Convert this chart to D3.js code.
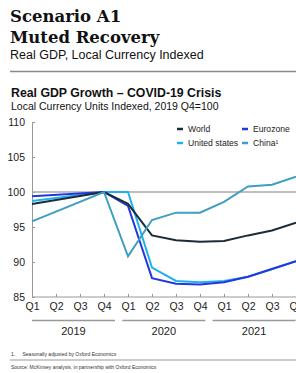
<!DOCTYPE html>
<html>
<head>
<meta charset="utf-8">
<script src="https://cdn.jsdelivr.net/npm/d3@7"></script>
<style>
  body { margin: 0; background: #fff; }
  svg { display: block; font-family: "Liberation Sans", Arial, sans-serif; }
</style>
</head>
<body>
<script>
// Datos del gráfico (índice, 2019 Q4 = 100)
const quarters = ["Q1", "Q2", "Q3", "Q4", "Q1", "Q2", "Q3", "Q4", "Q1", "Q2", "Q3", "Q4"];
const years = ["2019", "2020", "2021"];
const seriesNames = ["World", "Eurozone", "United states", "China\u00b9"];

// null = sin dato (la línea une los puntos existentes)
const world    = [98.3, null, null, 100, 98.3, 93.8, 93.1, 92.9, 93.0, 93.8, 94.5, 95.6];
const eurozone = [99.4, null, null, 100, 98.0, 87.7, 86.9, 86.8, 87.1, 87.9, 89.0, 90.1];
const usa      = [98.7, null, null, 100, 100, 89.2, 87.3, 87.1, 87.3, 87.9, 89.0, 90.1];
const china    = [95.8, null, null, 100, 90.8, 96.0, 97.05, 97.05, 98.6, 100.8, 101.05, 102.2];

const yTicks = [85, 90, 95, 100, 105, 110];

const [w, h] = [296, 373];

const svg = d3.select("body").append("svg")
    .attr("width", w)
    .attr("height", h);

// Cabecera
svg.append("text").attr("x", 10).attr("y", 22)
    .style("font-family", "'DejaVu Serif', serif").style("font-weight", "bold")
    .style("font-size", "16.5px").attr("fill", "#111").text("Scenario A1");
svg.append("text").attr("x", 10).attr("y", 43)
    .style("font-family", "'DejaVu Serif', serif").style("font-weight", "bold")
    .style("font-size", "16.5px").attr("fill", "#111").text("Muted Recovery");
svg.append("text").attr("x", 10).attr("y", 59)
    .style("font-size", "12.5px").attr("fill", "#111").text("Real GDP, Local Currency Indexed");
svg.append("line").attr("x1", 10).attr("x2", w).attr("y1", 71.5).attr("y2", 71.5)
    .attr("stroke", "#8a8a8a").attr("stroke-width", 1.5);

svg.append("text").attr("x", 11).attr("y", 97)
    .style("font-size", "12.3px").style("font-weight", "bold").attr("fill", "#111")
    .text("Real GDP Growth \u2013 COVID-19 Crisis");
svg.append("text").attr("x", 11).attr("y", 110)
    .style("font-size", "10.5px").attr("fill", "#111")
    .text("Local Currency Units Indexed, 2019 Q4=100");

// Escalas
const keys = quarters.map((q, i) => i);
const xScale = d3.scalePoint().domain(keys).range([32, 296]);
const yScale = d3.scaleLinear().domain([85, 110]).range([297, 122]);

// Eje Y
svg.append("g")
    .attr("transform", "translate(32,0)")
    .call(d3.axisLeft(yScale).tickValues(yTicks).tickSizeInner(-3).tickSizeOuter(0).tickPadding(7))
    .call(g => g.selectAll("path, line").attr("stroke", "#999"))
    .call(g => g.selectAll("text").style("font-size", "10.5px").attr("fill", "#222"));

// Eje X
svg.append("g")
    .attr("transform", "translate(0,297)")
    .call(d3.axisBottom(xScale).tickFormat(i => quarters[i]).tickSizeInner(-3).tickSizeOuter(0).tickPadding(6))
    .call(g => g.select(".domain").attr("d", "M32,0H" + w))
    .call(g => g.selectAll("path, line").attr("stroke", "#999"))
    .call(g => g.selectAll("text").style("font-size", "10.5px").attr("fill", "#222"));

// Línea de referencia 100
svg.append("line")
    .attr("x1", 32).attr("x2", w)
    .attr("y1", yScale(100)).attr("y2", yScale(100))
    .attr("stroke", "#aaa").attr("stroke-width", 1.5);

// Años
years.forEach((yr, j) => {
    const x0 = 32 + j * 90.3;
    const x1 = Math.min(x0 + 83, w);
    svg.append("line").attr("x1", x0).attr("x2", x1).attr("y1", 320.5).attr("y2", 320.5)
        .attr("stroke", "#999").attr("stroke-width", 1.5);
    svg.append("text").attr("x", (x0 + x1) / 2).attr("y", 335)
        .attr("text-anchor", "middle").style("font-size", "11px").attr("fill", "#222").text(yr);
});

// Series
const colors = ["#1c2b3a", "#2436e0", "#1cb2f0", "#3f9fbf"];
const allSeries = [world, eurozone, usa, china];
const drawOrder = [2, 1, 0, 3];

const line = d3.line()
    .x(d => xScale(d.i))
    .y(d => yScale(d.v));

drawOrder.forEach(k => {
    const pts = allSeries[k].map((v, i) => ({ i, v })).filter(d => d.v !== null);
    svg.append("path")
        .datum(pts)
        .attr("d", line)
        .attr("fill", "none")
        .attr("stroke", colors[k])
        .attr("stroke-width", 2);
});

// Leyenda
const legendPos = [[177, 129], [242, 129], [177, 143], [242, 143]];
seriesNames.forEach((name, k) => {
    const [lx, ly] = legendPos[k];
    svg.append("line").attr("x1", lx).attr("x2", lx + 6).attr("y1", ly).attr("y2", ly)
        .attr("stroke", colors[k]).attr("stroke-width", 2.5);
    svg.append("text").attr("x", lx + 11).attr("y", ly + 3.2)
        .style("font-size", "8.6px").attr("fill", "#222").text(name);
});

// Notas
svg.append("text").attr("x", 11).attr("y", 356)
    .style("font-size", "5px").attr("fill", "#333").text("1.");
svg.append("text").attr("x", 22.5).attr("y", 356)
    .style("font-size", "5px").attr("fill", "#333").text("Seasonally adjusted by Oxford Economics");
svg.append("line").attr("x1", 10).attr("x2", w).attr("y1", 360).attr("y2", 360)
    .attr("stroke", "#999").attr("stroke-width", 1);
svg.append("text").attr("x", 11).attr("y", 369)
    .style("font-size", "5px").attr("fill", "#333")
    .text("Source: McKinsey analysis, in partnership with Oxford Economics");
</script>
</body>
</html>
